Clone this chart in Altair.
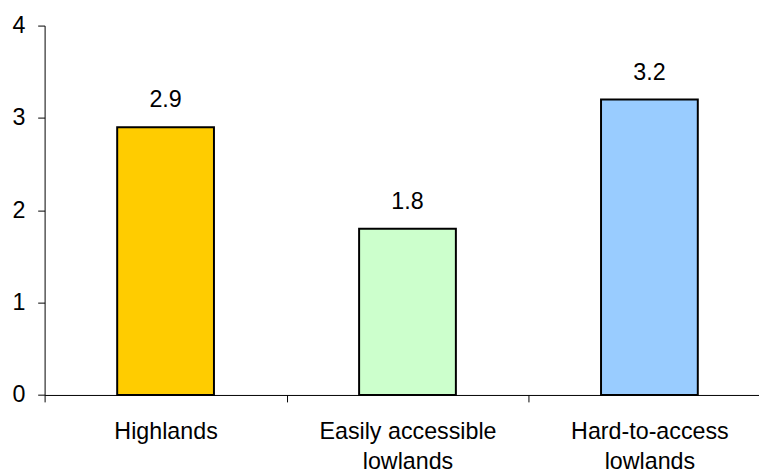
import altair as alt
import pandas as pd

categories = ["Highlands", "Easily accessible lowlands", "Hard-to-access lowlands"]
label_lines = [["Highlands"], ["Easily accessible", "lowlands"], ["Hard-to-access", "lowlands"]]
values = [2.9, 1.8, 3.2]
value_labels = ["2.9", "1.8", "3.2"]
colors = ["#FFCC00", "#CCFFCC", "#99CCFF"]
y_ticks = [0, 1, 2, 3, 4]

df = pd.DataFrame({"category": categories, "value": values, "label": value_labels})

# build label expression for multi-line axis labels
expr = "datum.label"
for cat, lines in reversed(list(zip(categories, label_lines))):
    arr = "[" + ", ".join("'" + l + "'" for l in lines) + "]"
    expr = f"datum.label == '{cat}' ? {arr} : ({expr})"

FONT = "Liberation Sans"
FS = 23.5

x_enc = alt.X(
    "category:N",
    sort=categories,
    scale=alt.Scale(domain=categories, paddingInner=0, paddingOuter=0),
    axis=alt.Axis(
        title=None,
        labelAngle=0,
        tickBand="extent",
        labelExpr=expr,
        labelFont=FONT,
        labelFontSize=FS,
        labelColor="#000000",
        labelPadding=18,
        labelLineHeight=30,
        tickSize=7,
        tickColor="#000000",
        domainColor="#000000",
        labelBaseline="top",
    ),
)

y_enc = alt.Y(
    "value:Q",
    scale=alt.Scale(domain=[0, 4], nice=False),
    axis=alt.Axis(
        title=None,
        values=y_ticks,
        format="d",
        grid=False,
        labelFont=FONT,
        labelFontSize=FS,
        labelColor="#000000",
        labelPadding=13,
        tickSize=7,
        tickColor="#000000",
        domainColor="#000000",
    ),
)

bars = alt.Chart(df).mark_bar(
    width=alt.RelativeBandSize(0.4), stroke="#000000", strokeWidth=2
).encode(
    x=x_enc,
    y=y_enc,
    color=alt.Color("category:N", scale=alt.Scale(domain=categories, range=colors), legend=None),
)

texts = alt.Chart(df).mark_text(
    dy=-20, baseline="alphabetic", font=FONT, fontSize=FS, color="#000000"
).encode(
    x=alt.X("category:N", sort=categories),
    y=alt.Y("value:Q"),
    text="label:N",
)

chart = (
    alt.layer(bars, texts)
    .properties(
        width=733.5,
        height=373.3,
        autosize=alt.AutoSizeParams(type="none"),
        padding={"left": 37, "top": 15.3, "right": -11.5, "bottom": 78},
        background="#ffffff",
    )
    .configure_view(stroke=None)
)

chart.save("out.html", embed_options={"renderer": "svg", "actions": False})
